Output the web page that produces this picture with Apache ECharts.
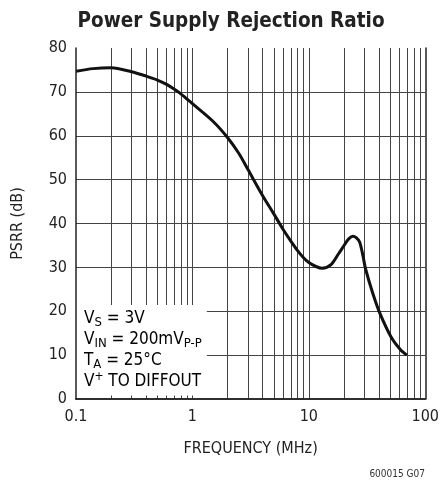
<!DOCTYPE html>
<html><head><meta charset="utf-8">
<script src="https://cdn.jsdelivr.net/npm/echarts@6/dist/echarts.min.js"></script>
<style>html,body{margin:0;padding:0;background:#fff}#c{width:442px;height:486px}</style>
</head><body><div id="c"></div>
<script>
const FONT = '"Liberation Sans Narrow","DejaVu Sans Condensed","Liberation Sans",sans-serif';
const title = 'Power Supply Rejection Ratio';
const freqMHz = [0.1,0.14,0.2,0.3,0.4,0.5,0.6,0.7,0.8,1,1.5,2,2.5,3,4,5,6,7,8,9,10,11.5,13,15.6,18,20.2,22,23.9,25.5,27.3,29.3,30.6,35.4,40.8,50.7,61,69.5];
const psrrDb  = [74.7,75.3,75.5,74.6,73.6,72.7,71.7,70.6,69.5,67.3,63.3,59.6,56,52.3,46.4,42.2,38.7,36.0,33.8,32.2,31.1,30.2,29.8,30.7,33.1,35.1,36.5,37.1,36.8,35.8,32.4,29.8,24.1,19.5,14.2,11.3,10.0];
const xGridValues = [0.2,0.3,0.4,0.5,0.6,0.7,0.8,0.9,1,2,3,4,5,6,7,8,9,10,20,30,40,50,60,70,80,90];
const yGridValues = [10,20,30,40,50,60,70];
const yTicks = [0,10,20,30,40,50,60,70,80];
const xTicks = [0.1,1,10,100];
const boxX = [0.1, 1.33];
const boxY = [0.8, 21.4];

const chart = echarts.init(document.getElementById('c'));
const gridLines = xGridValues.map(v => ({xAxis: v})).concat(yGridValues.map(v => ({yAxis: v})));
chart.setOption({
  animation: false,
  title: {text: title, left: 226, textAlign: 'center', top: 6,
    textStyle: {fontFamily: FONT, fontSize: 20.5, fontWeight: 'bold', color: '#222'}},
  grid: {left: 76, top: 48, right: 14, bottom: 87},
  xAxis: [{type: 'log', logBase: 10, min: 0.1, max: 100, z: 20,
    name: 'FREQUENCY (MHz)', nameLocation: 'middle', nameGap: 42,
    nameTextStyle: {fontFamily: FONT, fontSize: 16, color: '#222'},
    axisLine: {show: true, lineStyle: {color: '#222', width: 1.5}},
    axisTick: {show: false}, splitLine: {show: false}, minorTick: {show: false},
    axisLabel: {fontFamily: FONT, fontSize: 16, color: '#222', margin: 10,
      formatter: v => (xTicks.indexOf(+v) >= 0 ? String(+v) : '')}},
    {type: 'log', logBase: 10, min: 0.1, max: 100, position: 'top', z: 20,
    axisLine: {show: true, lineStyle: {color: '#222', width: 1.5}},
    axisTick: {show: false}, axisLabel: {show: false}, splitLine: {show: false}}],
  yAxis: [{type: 'value', min: 0, max: 80, interval: 10, z: 20,
    name: 'PSRR (dB)', nameLocation: 'middle', nameGap: 50, nameRotate: 90,
    nameTextStyle: {fontFamily: FONT, fontSize: 16, color: '#222'},
    axisLine: {show: true, lineStyle: {color: '#222', width: 1.5}},
    axisTick: {show: false}, splitLine: {show: false},
    axisLabel: {fontFamily: FONT, fontSize: 16, color: '#222', margin: 9,
      formatter: v => (yTicks.indexOf(v) >= 0 ? String(v) : '')}},
    {type: 'value', min: 0, max: 80, interval: 10, position: 'right', z: 20,
    axisLine: {show: true, lineStyle: {color: '#222', width: 1.5}},
    axisTick: {show: false}, axisLabel: {show: false}, splitLine: {show: false}}],
  series: [
    {type: 'line', data: [[freqMHz[0], psrrDb[0]]], z: 1, silent: true, symbol: 'none',
      lineStyle: {opacity: 0},
      markLine: {silent: true, z: 2, symbol: 'none', label: {show: false},
        lineStyle: {color: '#444', width: 1, type: 'solid'}, data: gridLines}},
    {type: 'line', data: [[freqMHz[0], psrrDb[0]]], z: 3, silent: true, symbol: 'none',
      lineStyle: {opacity: 0},
      markArea: {silent: true, z: 6, itemStyle: {color: '#fff', opacity: 1},
        data: [[{coord: [boxX[0], boxY[0]]}, {coord: [boxX[1], boxY[1]]}]]}},
    {type: 'line', z: 8, smooth: 0.3, showSymbol: false, symbol: 'none',
      lineStyle: {color: '#111', width: 3},
      data: freqMHz.map((f, i) => [f, psrrDb[i]])}
  ],
  graphic: [
    {type: 'text', left: 84, top: 310, z: 30, style: {
      text: '{m|V}{s|S}{m| = 3V}\n{m|V}{s|IN}{m| = 200mV}{s|P-P}\n{m|T}{s|A}{m| = 25°C}\n{m|V}{p|+}{m| TO DIFFOUT}',
      rich: {
        m: {fontFamily: FONT, fontSize: 17, color: '#222', lineHeight: 21, verticalAlign: 'middle'},
        s: {fontFamily: FONT, fontSize: 13, color: '#222', lineHeight: 13, verticalAlign: 'bottom'},
        p: {fontFamily: FONT, fontSize: 12, color: '#222', lineHeight: 12, verticalAlign: 'top'}
      }}},
    {type: 'text', right: 17, top: 469, style: {text: '600015 G07', fontFamily: FONT, fontSize: 10, fill: '#333'}}
  ]
});
</script></body></html>
